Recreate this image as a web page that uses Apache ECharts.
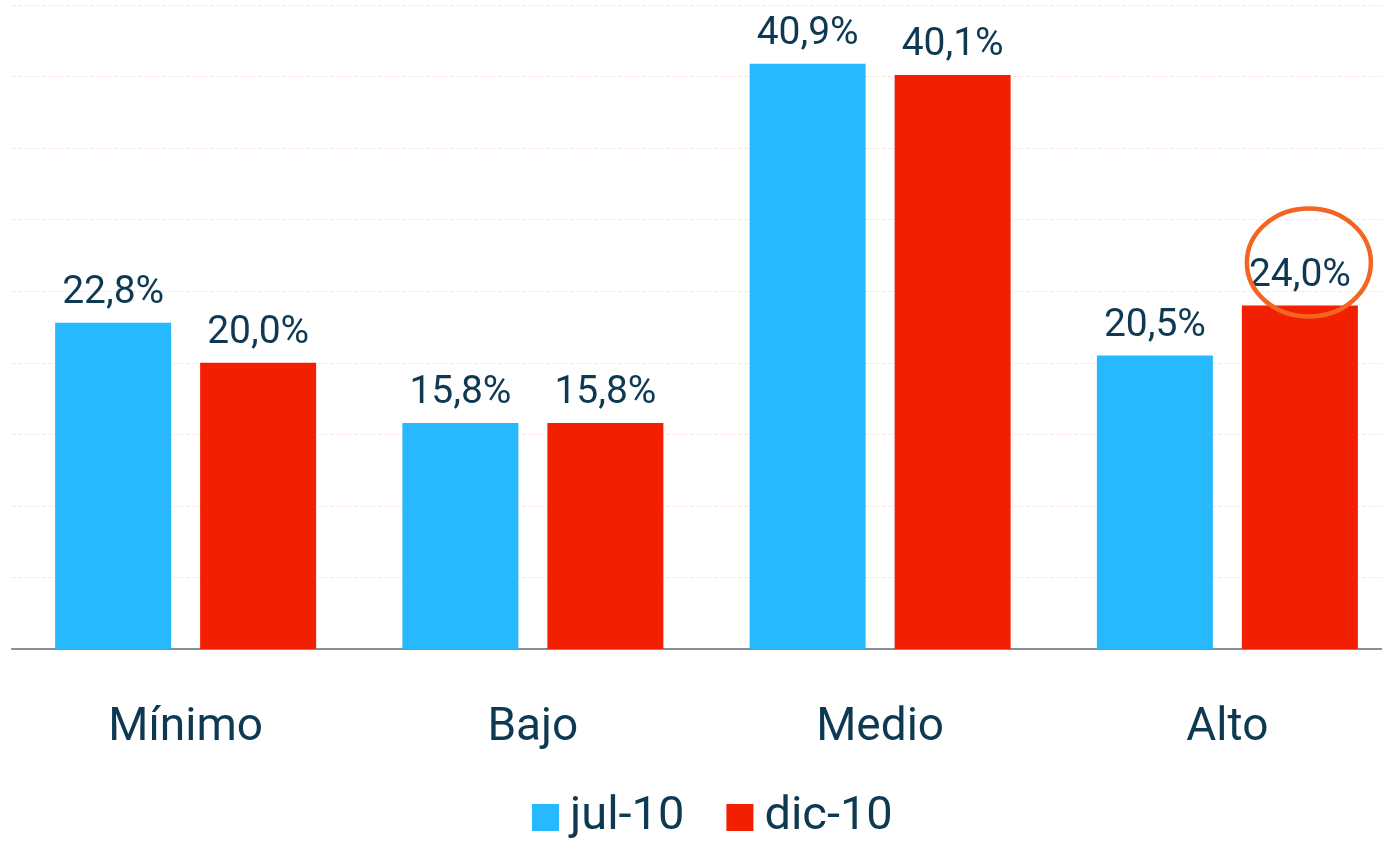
<!DOCTYPE html>
<html><head><meta charset="utf-8">
<script src="https://cdn.jsdelivr.net/npm/echarts@6/dist/echarts.min.js"></script>
<style>html,body{margin:0;padding:0;background:#fff}#c{width:1382px;height:846px}</style>
</head><body><div id="c"></div>
<script>
const categories = ['Mínimo', 'Bajo', 'Medio', 'Alto'];
const seriesNames = ['jul-10', 'dic-10'];
const jul10 = [22.8, 15.8, 40.9, 20.5];
const dic10 = [20.0, 15.8, 40.1, 24.0];
const highlight = { series: 1, index: 3 };

const FONT = 'Roboto';
const TXT = '#0d3a52';
const chart = echarts.init(document.getElementById('c'), null, { renderer: 'canvas' });
const fmt = p => p.value.toFixed(1).replace('.', ',') + '%';
const labelCfg = { show: true, position: 'top', distance: 10, formatter: fmt, color: TXT, fontSize: 39, fontFamily: FONT };

chart.setOption({
  animation: false,
  textStyle: { fontFamily: FONT },
  grid: { left: 12, width: 1389, top: 5, bottom: 197, containLabel: false, outerBoundsMode: 'none' },
  legend: {
    bottom: 0, left: 527, itemWidth: 27, itemHeight: 27, itemGap: 42,
    icon: 'rect',
    textStyle: { color: TXT, fontSize: 47, fontFamily: FONT, padding: [0, 0, 0, 6] },
    data: seriesNames
  },
  xAxis: {
    type: 'category', data: categories,
    axisLine: { lineStyle: { color: '#8a8d96', width: 2 } },
    axisTick: { show: false },
    axisLabel: { color: TXT, fontSize: 46, fontFamily: FONT, margin: 56 }
  },
  yAxis: {
    type: 'value', min: 0, max: 45, interval: 5,
    axisLabel: { show: false }, axisLine: { show: false }, axisTick: { show: false },
    splitLine: { lineStyle: { color: '#fde6e2', type: 'dashed', width: 1 } }
  },
  series: [
    { name: seriesNames[0], type: 'bar', data: jul10, barWidth: 116, barGap: '25%', itemStyle: { color: '#27b8fd' }, label: labelCfg },
    { name: seriesNames[1], type: 'bar', data: dic10, barWidth: 116, itemStyle: { color: '#f21f03' }, label: labelCfg }
  ]
});

const pt = chart.convertToPixel({ seriesIndex: highlight.series }, [highlight.index, dic10[highlight.index]]);
const barLayout = chart.getModel().getSeriesByIndex(highlight.series).getData().getItemLayout(highlight.index);
const cx = barLayout.x + barLayout.width / 2;
chart.setOption({
  graphic: [{
    type: 'ellipse', shape: { cx: cx + 9, cy: pt[1] - 43, rx: 62, ry: 54 },
    style: { fill: 'none', stroke: '#f26522', lineWidth: 4.5 }, z: 100
  }]
});
</script></body></html>
